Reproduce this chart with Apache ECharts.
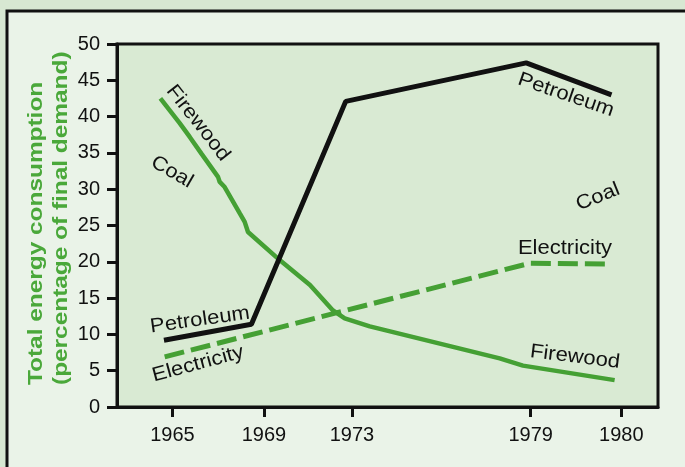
<!DOCTYPE html>
<html>
<head>
<meta charset="utf-8">
<title>Energy consumption</title>
<script src="https://cdn.jsdelivr.net/npm/echarts@6/dist/echarts.min.js"></script>
<style>
    html, body { margin: 0; padding: 0; background: #d7e8d2; overflow: hidden; }
    #chart { width: 685px; height: 467px; }
</style>
</head>
<body>
<div id="chart"></div>
<script>
    // x positions are in axis units: 1965 = 0, 1969 ~ 1, 1973 = 2, 1979 ~ 4, 1980 = 5
    var yearLabels = ['1965', '1969', '1973', '1979', '1980'];
    var yearPos = [0, 1.02, 2, 3.99, 5];

    var petroleumX = [-0.094, 0.88, 1.93, 3.94, 4.89];
    var petroleumY = [9.2, 11.4, 42.1, 47.4, 43.0];

    var electricityX = [-0.086, 3.98, 4.89];
    var electricityY = [6.9, 19.8, 19.7];

    var firewoodX = [-0.134, 0.081, 0.193, 0.323, 0.508, 0.527, 0.582, 0.749, 0.805, 0.842, 1.198, 1.532, 1.788, 1.919, 2.198, 3.645, 3.904, 4.925];
    var firewoodY = [42.5, 39.1, 37.2, 34.9, 31.7, 31.0, 30.3, 26.7, 25.5, 24.1, 20.2, 16.8, 13.3, 12.2, 11.1, 6.7, 5.7, 3.7];

    function pairs(xs, ys) {
        var res = [];
        for (var i = 0, len = xs.length; i < len; i++) {
            res.push([xs[i], ys[i]]);
        }
        return res;
    }

    var font = '"Liberation Sans", Arial, sans-serif';
    var green = '#45a034';

    // rotated text notes inside the plot
    function note(text, x, y, deg) {
        return {
            type: 'text', x: x, y: y, z: 20, scaleX: 1.1,
            rotation: deg * Math.PI / 180,
            style: {
                text: text, fill: '#111', font: '20px ' + font,
                align: 'center', verticalAlign: 'middle'
            }
        };
    }

    var chart = echarts.init(document.getElementById('chart'));
    chart.setOption({
        animation: false,
        backgroundColor: '#d7e8d2',
        grid: {
            left: 117, right: 27, top: 44, bottom: 60,
            show: true, backgroundColor: '#d9ead3',
            borderColor: '#111', borderWidth: 3
        },
        xAxis: {
            type: 'value', min: -0.617, max: 5.408,
            splitLine: { show: false },
            axisLine: { onZero: false, lineStyle: { color: '#111', width: 3 } },
            axisTick: { length: 10, lineStyle: { color: '#111', width: 3 }, customValues: yearPos },
            axisLabel: {
                customValues: yearPos, margin: 18,
                fontSize: 20, color: '#111', fontFamily: font,
                formatter: function (v) {
                    for (var i = 0; i < yearPos.length; i++) {
                        if (Math.abs(yearPos[i] - v) < 1e-6) return yearLabels[i];
                    }
                    return '';
                }
            }
        },
        yAxis: {
            type: 'value', min: 0, max: 50, interval: 5,
            splitLine: { show: false },
            axisLine: { onZero: false, lineStyle: { color: '#111', width: 3 } },
            axisTick: { length: 10, lineStyle: { color: '#111', width: 3 } },
            axisLabel: { margin: 17, fontSize: 20, color: '#111', fontFamily: font }
        },
        series: [{
            name: 'Firewood', type: 'line', showSymbol: false,
            data: pairs(firewoodX, firewoodY),
            lineStyle: { color: green, width: 4.5 }
        }, {
            name: 'Electricity', type: 'line', showSymbol: false,
            data: pairs(electricityX, electricityY),
            lineStyle: { color: green, width: 5, type: [20, 7] }
        }, {
            name: 'Petroleum', type: 'line', showSymbol: false,
            data: pairs(petroleumX, petroleumY),
            lineStyle: { color: '#111', width: 5 }
        }],
        graphic: [{
            // outer panel with only its top and left edges in view
            type: 'rect', z: -10, silent: true,
            shape: { x: 7, y: 11, width: 700, height: 480 },
            style: { fill: '#eaf3e8' }
        }, {
            type: 'polyline', z: -9, silent: true,
            shape: { points: [[7, 470], [7, 11], [690, 11]] },
            style: { stroke: '#111', lineWidth: 3, fill: null }
        }, {
            type: 'text', x: 49, y: 385, z: 20,
            rotation: Math.PI / 2, scaleX: 1.22,
            style: {
                text: 'Total energy consumption\n(percentage of final demand)',
                fill: '#4aa83a', font: 'bold 20px ' + font,
                align: 'left', verticalAlign: 'middle', lineHeight: 25
            }
        },
            note('Firewood', 198, 123, -52),
            note('Coal', 172, 172, -30),
            note('Petroleum', 566, 95, -19),
            note('Coal', 598, 197, 22),
            note('Electricity', 565, 248, 0),
            note('Firewood', 575, 357, -7),
            note('Petroleum', 200, 320, 8),
            note('Electricity', 198, 364, 15)
        ]
    });
</script>
</body>
</html>
